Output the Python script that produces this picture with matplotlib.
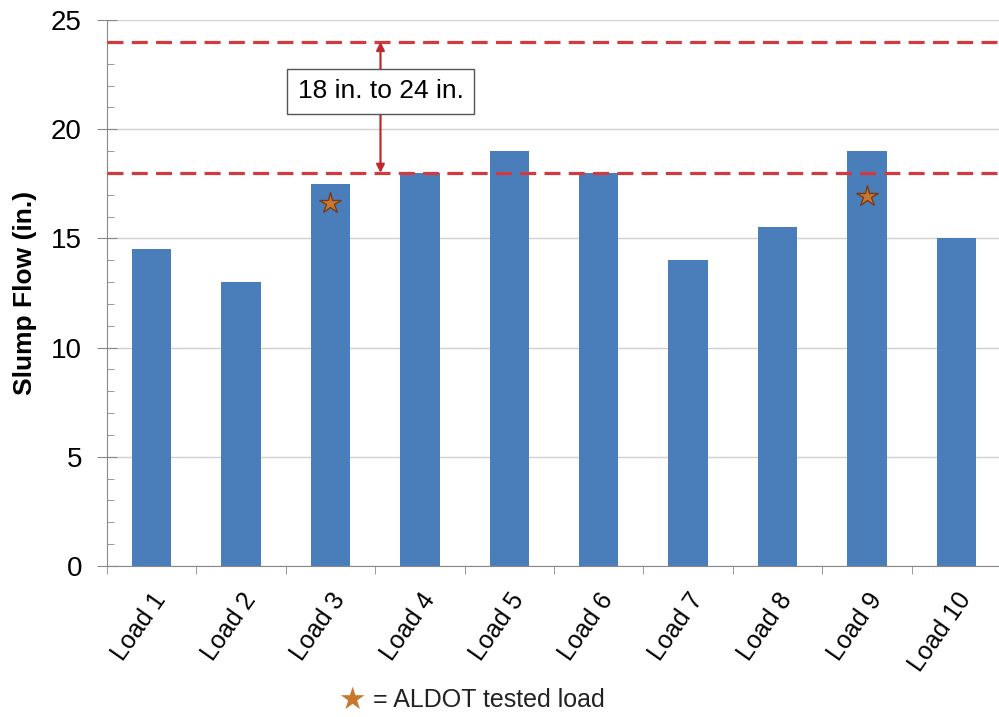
import matplotlib.pyplot as plt
from matplotlib.ticker import MultipleLocator
import numpy as np

plt.rcParams['font.family'] = ['Liberation Sans', 'DejaVu Sans']

# data
loads = ['Load 1', 'Load 2', 'Load 3', 'Load 4', 'Load 5',
         'Load 6', 'Load 7', 'Load 8', 'Load 9', 'Load 10']
slump = [14.5, 13.0, 17.5, 18.0, 19.0, 18.0, 14.0, 15.5, 19.0, 15.0]
tested_idx = [2, 8]
tested_y = [16.6, 16.95]
spec_low = 18
spec_high = 24

fig = plt.figure(figsize=(9.99, 7.17), dpi=100)
ax = fig.add_axes([0.107, 0.2106, 0.895, 0.7615])

x = np.arange(len(loads))
ax.bar(x, slump, width=0.44, color='#4a7ebb', zorder=2)

# tested loads
ax.plot(x[tested_idx], tested_y, ls='none', marker='*', ms=16,
        color='#c8772e', mec='#7a3b12', mew=1.0, zorder=3)

# spec limits
for yv in (spec_low, spec_high):
    ax.axhline(yv, color='#d23a3f', lw=2.3, dashes=(5, 2.6), zorder=4)

arrow_x = 2.56
ax.annotate('', xy=(arrow_x, spec_high), xytext=(arrow_x, spec_low),
            arrowprops=dict(arrowstyle='<|-|>', color='#c0282f', lw=1.6,
                            mutation_scale=12, shrinkA=0, shrinkB=0),
            zorder=5)
ax.text(arrow_x, 21.73, '18 in. to 24 in.', ha='center', va='center',
        fontsize=19, zorder=6,
        bbox=dict(boxstyle='square,pad=0.4', fc='white', ec='#555555', lw=1))

ax.set_xlim(-0.5, 9.5)
ax.set_ylim(0, 25)
ax.yaxis.set_major_locator(MultipleLocator(5))
ax.yaxis.set_minor_locator(MultipleLocator(1))
ax.grid(axis='y', color='#d0d0d0', lw=1, zorder=0)

ax.set_xticks(x)
ax.set_xticklabels(loads, rotation=55, ha='right', rotation_mode='anchor',
                   fontsize=18)
ax.set_xticks(np.arange(-0.5, 10, 1), minor=True)
ax.tick_params(axis='x', which='major', length=0, pad=16)
ax.tick_params(axis='x', which='minor', length=6, color='#888888', direction='out')
ax.tick_params(axis='y', which='major', labelsize=20, length=14, color='#888888',
               direction='inout', pad=11)
ax.tick_params(axis='y', which='minor', length=5, color='#888888', direction='in')

for s in ('top', 'right'):
    ax.spines[s].set_visible(False)
for s in ('left', 'bottom'):
    ax.spines[s].set_color('#888888')

ax.set_ylabel('Slump Flow (in.)', fontsize=19, fontweight='bold')
ax.yaxis.set_label_coords(-0.078, 0.5)

# legend note at the bottom
fig.text(0.352, 1 - 700 / 717, '\u2605', fontsize=22, color='#c8772e',
         ha='center', va='center', family='DejaVu Sans')
fig.text(0.373, 1 - 700 / 717, '= ALDOT tested load', fontsize=18, ha='left',
         va='center', color='#222222')

fig.savefig('out.png', dpi=100)
